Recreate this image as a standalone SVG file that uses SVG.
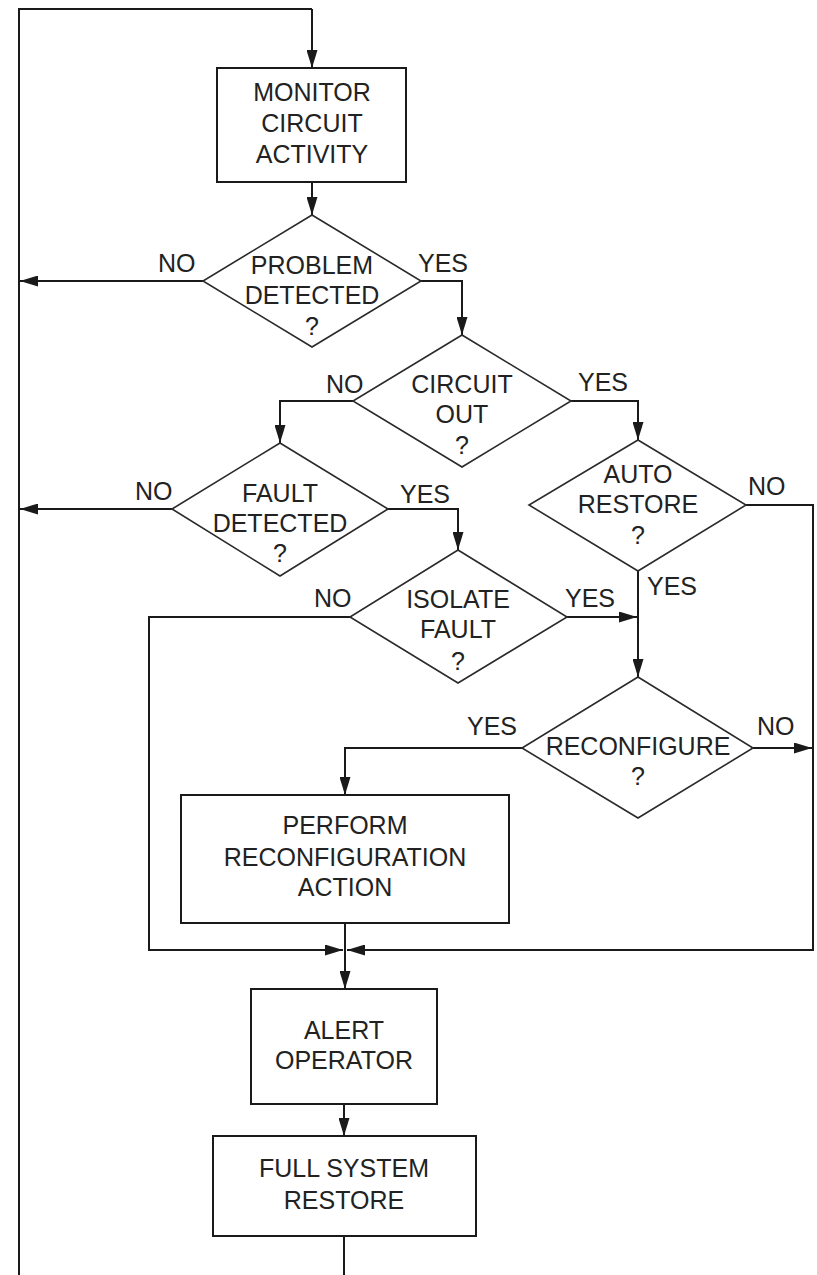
<svg xmlns="http://www.w3.org/2000/svg" width="817" height="1275" viewBox="0 0 817 1275">
  <style>
    .box { fill: #fff; stroke: #1a1a1a; stroke-width: 2; }
    .dec { fill: #fff; stroke: #2a2a2a; stroke-width: 1.6; }
    .wire { fill: none; stroke: #1a1a1a; stroke-width: 2; }
    .arr { marker-end: url(#head); }
    text { font-family: "Liberation Sans", Arial, sans-serif; font-size: 25px; fill: #222; }
    .c { text-anchor: middle; }
  </style>
  <defs>
    <marker id="head" markerUnits="userSpaceOnUse" markerWidth="18" markerHeight="11" refX="18" refY="5.5" orient="auto">
      <path d="M0,0 L18,5.5 L0,11 Z" fill="#1a1a1a"/>
    </marker>
  </defs>

  <!-- connectors -->
  <g id="connectors">
    <polyline class="wire" points="19,1275 19,9 312,9"/>
    <polyline class="wire arr" points="312,9 312,68"/>
    <polyline class="wire arr" points="312,182 312,215"/>
    <polyline class="wire arr" points="203,281 20,281"/>
    <polyline class="wire arr" points="420,281 462,281 462,335"/>
    <polyline class="wire arr" points="353,401 280,401 280,443"/>
    <polyline class="wire arr" points="571,401 638,401 638,440"/>
    <polyline class="wire arr" points="172,509 20,509"/>
    <polyline class="wire arr" points="388,509 458,509 458,550"/>
    <polyline class="wire arr" points="638,571 638,677"/>
    <polyline class="wire arr" points="567,617 637,617"/>
    <polyline class="wire arr" points="350,617 149,617 149,950 343,950"/>
    <polyline class="wire arr" points="746,505 813,505 813,950 347,950"/>
    <polyline class="wire arr" points="753,748 812,748"/>
    <polyline class="wire arr" points="522,748 345,748 345,795"/>
    <polyline class="wire arr" points="345,923 345,989"/>
    <polyline class="wire arr" points="344,1104 344,1136"/>
    <polyline class="wire" points="344,1236 344,1275"/>
  </g>

  <!-- branch labels -->
  <g id="labels">
    <text x="158" y="272">NO</text>
    <text x="418" y="272">YES</text>
    <text x="326" y="393">NO</text>
    <text x="578" y="391">YES</text>
    <text x="135" y="500">NO</text>
    <text x="400" y="503">YES</text>
    <text x="748" y="495">NO</text>
    <text x="647" y="595">YES</text>
    <text x="314" y="607">NO</text>
    <text x="565" y="607">YES</text>
    <text x="467" y="735">YES</text>
    <text x="757" y="735">NO</text>
  </g>

  <g id="monitor">
    <rect class="box" x="217" y="68" width="189" height="114"/>
    <text class="c" x="312" y="101">MONITOR</text>
    <text class="c" x="312" y="132">CIRCUIT</text>
    <text class="c" x="312" y="163">ACTIVITY</text>
  </g>

  <g id="problem-detected">
    <polygon class="dec" points="312,215 421,281 312,347 203,281"/>
    <text class="c" x="312" y="274">PROBLEM</text>
    <text class="c" x="312" y="304">DETECTED</text>
    <text class="c" x="312" y="335">?</text>
  </g>

  <g id="circuit-out">
    <polygon class="dec" points="462,335 571,401 462,467 353,401"/>
    <text class="c" x="462" y="393">CIRCUIT</text>
    <text class="c" x="462" y="423">OUT</text>
    <text class="c" x="462" y="454">?</text>
  </g>

  <g id="auto-restore">
    <polygon class="dec" points="638,440 746,505 638,571 529,505"/>
    <text class="c" x="638" y="483">AUTO</text>
    <text class="c" x="638" y="513">RESTORE</text>
    <text class="c" x="638" y="544">?</text>
  </g>

  <g id="fault-detected">
    <polygon class="dec" points="280,443 388,509 280,576 172,509"/>
    <text class="c" x="280" y="502">FAULT</text>
    <text class="c" x="280" y="532">DETECTED</text>
    <text class="c" x="280" y="562">?</text>
  </g>

  <g id="isolate-fault">
    <polygon class="dec" points="458,550 567,617 458,683 350,617"/>
    <text class="c" x="458" y="608">ISOLATE</text>
    <text class="c" x="458" y="638">FAULT</text>
    <text class="c" x="458" y="670">?</text>
  </g>

  <g id="reconfigure">
    <polygon class="dec" points="638,677 753,748 638,818 522,748"/>
    <text class="c" x="638" y="755">RECONFIGURE</text>
    <text class="c" x="638" y="785">?</text>
  </g>

  <g id="perform-reconfiguration">
    <rect class="box" x="181" y="795" width="328" height="128"/>
    <text class="c" x="345" y="834">PERFORM</text>
    <text class="c" x="345" y="866">RECONFIGURATION</text>
    <text class="c" x="345" y="896">ACTION</text>
  </g>

  <g id="alert-operator">
    <rect class="box" x="251" y="989" width="186" height="115"/>
    <text class="c" x="344" y="1039">ALERT</text>
    <text class="c" x="344" y="1069">OPERATOR</text>
  </g>

  <g id="full-system-restore">
    <rect class="box" x="213" y="1136" width="263" height="100"/>
    <text class="c" x="344" y="1177">FULL SYSTEM</text>
    <text class="c" x="344" y="1209">RESTORE</text>
  </g>
</svg>
